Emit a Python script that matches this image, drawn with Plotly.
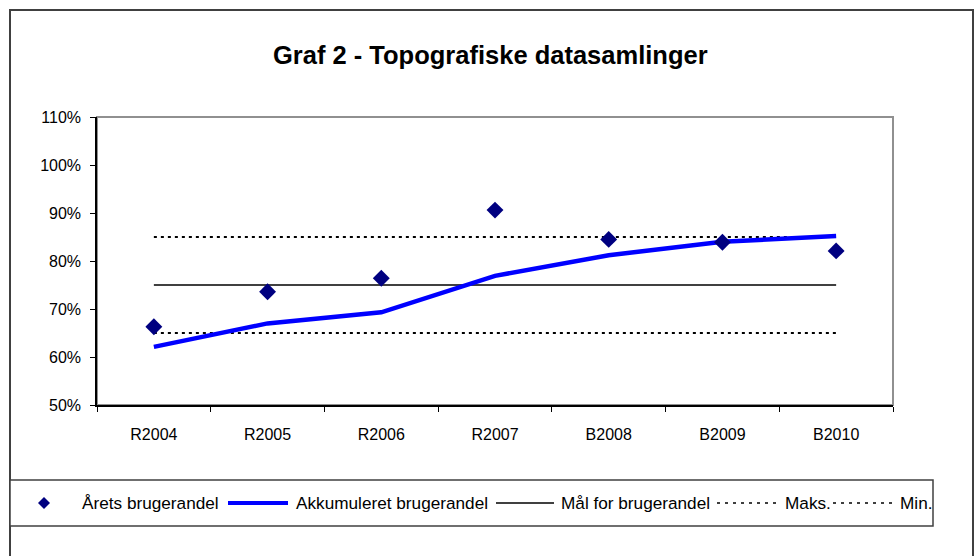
import plotly.graph_objects as go

categories = ["R2004", "R2005", "R2006", "R2007", "B2008", "B2009", "B2010"]
aarets_brugerandel = [0.663, 0.736, 0.764, 0.906, 0.845, 0.839, 0.821]
akkumuleret_brugerandel = [0.621, 0.670, 0.693, 0.769, 0.812, 0.840, 0.852]
maal_brugerandel = [0.75, 0.75, 0.75, 0.75, 0.75, 0.75, 0.75]
maks_vals = [0.85, 0.85, 0.85, 0.85, 0.85, 0.85, 0.85]
min_vals = [0.65, 0.65, 0.65, 0.65, 0.65, 0.65, 0.65]
series_names = ["Årets brugerandel", "Akkumuleret brugerandel", "Mål for brugerandel", "Maks.", "Min."]
y_ticks = [0.5, 0.6, 0.7, 0.8, 0.9, 1.0, 1.1]

W, H = 975, 556
L, R, T, B = 97, 893, 117, 405
FONT = "Arial, Liberation Sans, sans-serif"


def px(x):
    return (x - L) / (R - L)


def py(y):
    return (B - y) / (B - T)


fig = go.Figure()
fig.add_trace(go.Scatter(x=categories, y=maks_vals, mode="lines", name=series_names[3],
                         line=dict(color="black", width=2, dash="3px,4px"), showlegend=False))
fig.add_trace(go.Scatter(x=categories, y=min_vals, mode="lines", name=series_names[4],
                         line=dict(color="black", width=2, dash="3px,4px"), showlegend=False))
fig.add_trace(go.Scatter(x=categories, y=maal_brugerandel, mode="lines", name=series_names[2],
                         line=dict(color="black", width=1.5), showlegend=False))
fig.add_trace(go.Scatter(x=categories, y=akkumuleret_brugerandel, mode="lines", name=series_names[1],
                         line=dict(color="#0000FF", width=4.5), showlegend=False))
fig.add_trace(go.Scatter(x=categories, y=aarets_brugerandel, mode="markers", name=series_names[0],
                         marker=dict(symbol="diamond", size=13, color="#000080",
                                     line=dict(width=0)), showlegend=False))

shapes = []
# outer chart border
shapes.append(dict(type="rect", xref="paper", yref="paper", x0=px(10), x1=px(973), y0=py(560), y1=py(10),
                   line=dict(color="#404040", width=2), layer="below"))
# plot area border (gray top/right)
shapes.append(dict(type="rect", xref="paper", yref="paper", x0=0, x1=1, y0=0, y1=1,
                   line=dict(color="#909090", width=2), layer="below"))
# legend box
shapes.append(dict(type="rect", xref="paper", yref="paper", x0=px(10), x1=px(933), y0=py(526), y1=py(480),
                   line=dict(color="#404040", width=1.5), fillcolor="white", layer="below"))

ly = 503
# diamond symbol in legend
dx, dy = 6, 6
shapes.append(dict(type="path", xref="paper", yref="paper",
                   path=f"M {px(44)},{py(ly-dy)} L {px(44+dx)},{py(ly)} L {px(44)},{py(ly+dy)} L {px(44-dx)},{py(ly)} Z",
                   fillcolor="#000080", line=dict(width=0)))
shapes.append(dict(type="line", xref="paper", yref="paper", x0=px(228), x1=px(288), y0=py(ly), y1=py(ly),
                   line=dict(color="#0000FF", width=4)))
shapes.append(dict(type="line", xref="paper", yref="paper", x0=px(496), x1=px(554), y0=py(ly), y1=py(ly),
                   line=dict(color="black", width=1.5)))
shapes.append(dict(type="line", xref="paper", yref="paper", x0=px(717), x1=px(779), y0=py(ly), y1=py(ly),
                   line=dict(color="black", width=1.5, dash="3px,5px")))
shapes.append(dict(type="line", xref="paper", yref="paper", x0=px(833), x1=px(895), y0=py(ly), y1=py(ly),
                   line=dict(color="black", width=1.5, dash="3px,5px")))

annotations = []
text_x = [80, 294, 559, 783, 898]
for name, x in zip(series_names, text_x):
    annotations.append(dict(text=name, x=px(x), y=py(ly), xref="paper", yref="paper",
                            xanchor="left", yanchor="middle", showarrow=False,
                            font=dict(family=FONT, size=17.2, color="black")))
annotations.append(dict(text="<b>Graf 2 - Topografiske datasamlinger</b>", x=px(490), y=py(55),
                        xref="paper", yref="paper", xanchor="center", yanchor="middle", showarrow=False,
                        font=dict(family=FONT, size=25.5, color="black")))

fig.update_layout(
    width=W, height=H,
    margin=dict(l=L, r=W - R, t=T, b=H - B),
    paper_bgcolor="white", plot_bgcolor="white",
    font=dict(family=FONT, size=16, color="black"),
    shapes=shapes, annotations=annotations,
    showlegend=False,
    xaxis=dict(type="category", categoryorder="array", categoryarray=categories,
               range=[-0.5, 6.5], showline=True, linecolor="black", linewidth=1.5,
               ticks="outside", ticklen=5, tickcolor="black", tickson="boundaries",
               ticklabelstandoff=14,
               showgrid=False, zeroline=False, tickfont=dict(size=16)),
    yaxis=dict(range=[0.5, 1.1], tickvals=y_ticks, tickformat=".0%", showline=True,
               linecolor="black", linewidth=1.5, ticks="outside", ticklen=5, tickcolor="black",
               ticklabelstandoff=6,
               showgrid=False, zeroline=False, tickfont=dict(size=16)),
)

fig.write_html("out.html", config={"displayModeBar": False},
               post_script="document.body.style.margin='0';document.body.style.overflow='hidden';")
